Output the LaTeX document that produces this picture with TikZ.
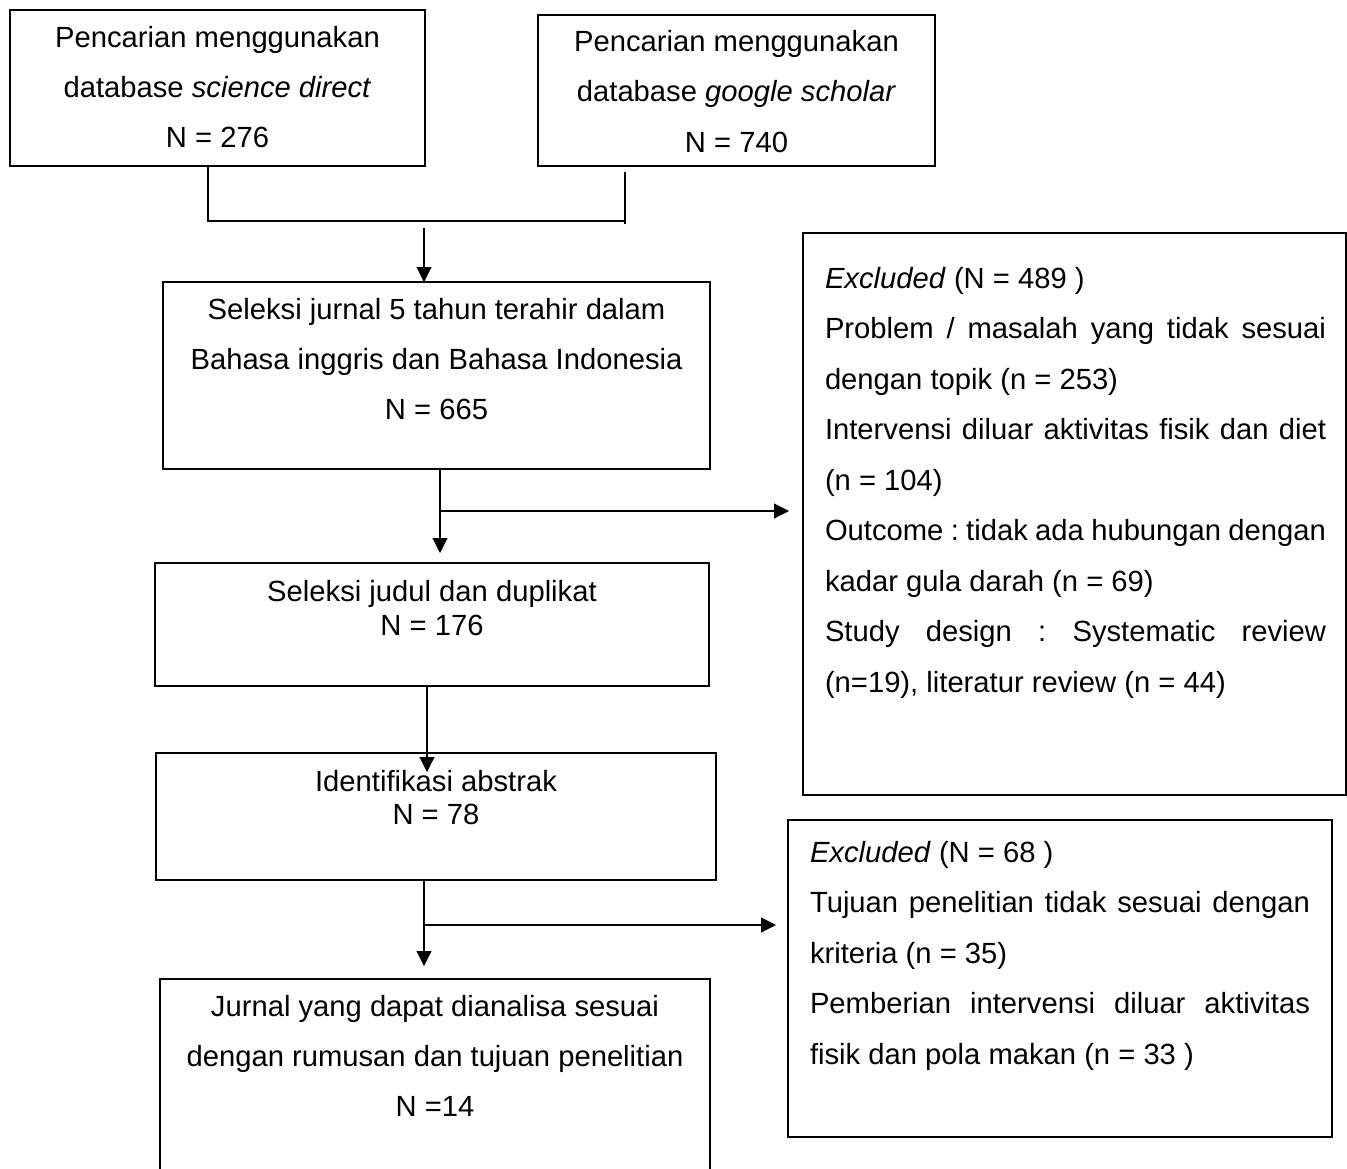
\documentclass[tikz,border=0pt]{standalone}
\usepackage{fontspec}
\setmainfont{Liberation Sans}
\usetikzlibrary{arrows.meta}
\begin{document}
\frenchspacing
\begin{tikzpicture}[x=1pt,y=-1pt,
  box/.style={draw, line width=2pt, inner sep=0pt, outer sep=0pt},
  conn/.style={line width=1.1pt},
  arr/.style={conn, -{Triangle[length=15pt,width=15pt]}},
  txt/.style={inner sep=0pt, outer sep=0pt, anchor=base},
  extxt/.style={inner sep=0pt, outer sep=0pt, anchor=base west}]
\useasboundingbox (0,0) rectangle (1347,1168);
\fontsize{29.2}{50}\selectfont
% boxes
\node[box, minimum width=415pt, minimum height=156pt] (b1) at (217.5,88) {};
\node[box, minimum width=397pt, minimum height=151pt] (b2) at (736.5,90.5) {};
\node[box, minimum width=547pt, minimum height=187pt] (b3) at (436.5,375.5) {};
\node[box, minimum width=543pt, minimum height=562pt] (e1) at (1074.5,514) {};
\node[box, minimum width=554pt, minimum height=123pt] (b4) at (432,624.5) {};
\node[box, minimum width=560pt, minimum height=127pt] (b5) at (436,816.5) {};
\node[box, minimum width=544pt, minimum height=317pt] (e2) at (1060,978.5) {};
\node[box, minimum width=550pt, minimum height=200pt] (b6) at (435,1079) {};
% texts
\node[txt] (t1) at (217.5,47) {\parbox[t]{400pt}{\centering\baselineskip=50pt
  Pencarian menggunakan\\database \textit{science direct}\\N = 276}};
\node[txt] (t2) at (736.5,51) {\parbox[t]{390pt}{\centering\baselineskip=50.5pt
  Pencarian menggunakan\\database \textit{google scholar}\\N = 740}};
\node[txt] (t3) at (436.5,319) {\parbox[t]{540pt}{\centering\baselineskip=50pt
  Seleksi jurnal 5 tahun terahir dalam\\Bahasa inggris dan Bahasa Indonesia\\N = 665}};
\node[txt] (t4) at (432,601) {\parbox[t]{540pt}{\centering\baselineskip=34pt
  Seleksi judul dan duplikat\\N = 176}};
\node[txt] (t5) at (436,791) {\parbox[t]{540pt}{\centering\baselineskip=33pt
  Identifikasi abstrak\\N = 78}};
\node[txt] (t6) at (435,1016) {\parbox[t]{540pt}{\centering\baselineskip=50pt
  Jurnal yang dapat dianalisa sesuai\\dengan rumusan dan tujuan penelitian\\N =14}};
\node[extxt] (x1) at (825,288) {\parbox[t]{501pt}{\parindent=0pt\baselineskip=50.5pt
  \textit{Excluded} (N = 489 )\par
  Problem / masalah yang tidak sesuai\linebreak dengan topik (n = 253)\par
  Intervensi diluar aktivitas fisik dan diet\linebreak (n = 104)\par
  Outcome : tidak ada hubungan dengan\linebreak kadar gula darah (n = 69)\par
  Study design : Systematic review\linebreak (n=19), literatur review (n = 44)\par}};
\node[extxt] (x2) at (810,862) {\parbox[t]{500pt}{\parindent=0pt\baselineskip=50.5pt
  \textit{Excluded} (N = 68 )\par
  Tujuan penelitian tidak sesuai dengan\linebreak kriteria (n = 35)\par
  Pemberian intervensi diluar aktivitas\linebreak fisik dan pola makan (n = 33 )\par}};
% connectors
\coordinate (c1a) at (208,166);
\coordinate (c1b) at (208,221);
\coordinate (c2a) at (625,172);
\coordinate (c2b) at (625,224);
\coordinate (j1) at (424,228);
\draw[conn] (c1a) -- (c1b) -- (625,221);
\draw[conn] (c2a) -- (c2b);
\draw[arr] (j1) -- (b3.north -| j1);
\coordinate (s1) at (440,469);
\coordinate (m1) at (440,511);
\coordinate (m1e) at (789,511);
\draw[arr] (s1) -- (440,553);
\draw[arr] (m1) -- (m1e);
\coordinate (s2) at (427,686);
\draw[arr] (s2) -- (427,772);
\coordinate (s3) at (424,880);
\coordinate (s3e) at (424,966);
\coordinate (m3) at (424,925);
\coordinate (m3e) at (776,925);
\draw[arr] (s3) -- (s3e);
\draw[arr] (m3) -- (m3e);
\end{tikzpicture}
\end{document}
